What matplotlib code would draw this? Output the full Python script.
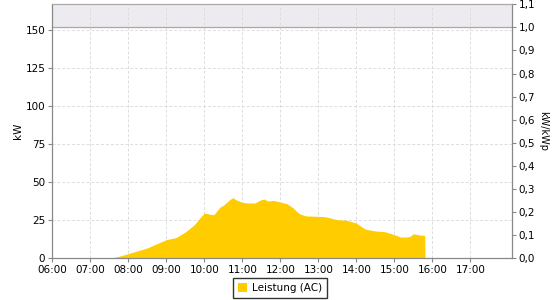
import numpy as np
import matplotlib.pyplot as plt
from matplotlib.ticker import FuncFormatter, MultipleLocator
from matplotlib.patches import Patch

# time of day (hours) and AC power (kW)
hours = [7.50, 7.75, 8.00, 8.50, 9.00, 9.25, 9.50, 9.75, 9.83, 10.00,
         10.17, 10.25, 10.42, 10.50, 10.67, 10.75, 10.83, 11.00, 11.17,
         11.33, 11.50, 11.58, 11.67, 11.83, 12.00, 12.17, 12.33, 12.42,
         12.50, 12.67, 13.00, 13.17, 13.33, 13.50, 13.75, 14.00, 14.17,
         14.25, 14.50, 14.75, 15.00, 15.17, 15.33, 15.42, 15.50, 15.67,
         15.80, 15.81]
power = [0.0, 1.3, 3.1, 6.8, 12.3, 13.6, 17.3, 22.4, 25.0, 29.8,
         28.9, 28.7, 33.8, 34.9, 38.6, 39.9, 38.6, 36.8, 36.4,
         36.4, 38.6, 39.0, 37.7, 38.1, 37.0, 36.0, 33.3, 31.1,
         29.4, 27.9, 27.6, 27.4, 26.5, 25.4, 25.0, 23.2, 20.2,
         19.1, 18.0, 17.5, 15.6, 14.0, 14.0, 14.5, 16.2, 15.3,
         15.1, 0.0]

kwp = 152.0
left_ticks = [0, 25, 50, 75, 100, 125, 150]
hour_ticks = list(range(6, 18))
hour_labels = ["%02d:00" % h for h in hour_ticks]

plt.rcParams['font.family'] = 'DejaVu Sans'
plt.rcParams['font.size'] = 7.5

fig = plt.figure(figsize=(5.6, 3.0), dpi=100)
ax = fig.add_axes([0.0934, 0.139, 0.8203, 0.8467])

xmin, xmax = 6.0, 18.09
ymax = 167.2
ax.set_xlim(xmin, xmax)
ax.set_ylim(0, ymax)

# gray band above the installed peak power
ax.axhspan(kwp, ymax, color='#edebef', zorder=0)
ax.axhline(kwp, color='#aaaaaa', lw=0.9, zorder=1)

ax.fill_between(hours, power, 0, color='#ffcc00', lw=0, zorder=2)

ax.set_yticks(left_ticks)
ax.set_xticks(hour_ticks)
ax.set_xticklabels(hour_labels)
ax.grid(True, color='#dddddd', ls=(0, (3, 2)), lw=0.7, zorder=0)
ax.set_axisbelow(True)

for s in ['left', 'bottom', 'right', 'top']:
    ax.spines[s].set_color('#888888')
    ax.spines[s].set_linewidth(0.9)
ax.spines['top'].set_color('#aaaaaa')
ax.tick_params(colors='#888888', labelcolor='black', length=3, width=0.8, pad=2)
ax.set_ylabel('kW', labelpad=2)

ax2 = ax.twinx()
ax2.set_ylim(0, ymax / kwp)
ax2.yaxis.set_major_locator(MultipleLocator(0.1))
ax2.yaxis.set_major_formatter(FuncFormatter(lambda v, p: ("%.1f" % v).replace('.', ',')))
for s in ['left', 'bottom', 'right', 'top']:
    ax2.spines[s].set_visible(False)
ax2.tick_params(colors='#888888', labelcolor='black', length=3, width=0.8, pad=2)
ax2.set_ylabel('kW/kWp', rotation=270, labelpad=9, fontsize=7)

leg = fig.legend(handles=[Patch(facecolor='#ffcc00', edgecolor='none', label='Leistung (AC)')],
                 loc='center', bbox_to_anchor=(0.5, 0.04), frameon=True, fancybox=False,
                 handlelength=0.8, handleheight=0.9, handletextpad=0.5, borderpad=0.5)
leg.get_frame().set_edgecolor('black')
leg.get_frame().set_linewidth(1.0)

fig.savefig('out.png', dpi=100)
